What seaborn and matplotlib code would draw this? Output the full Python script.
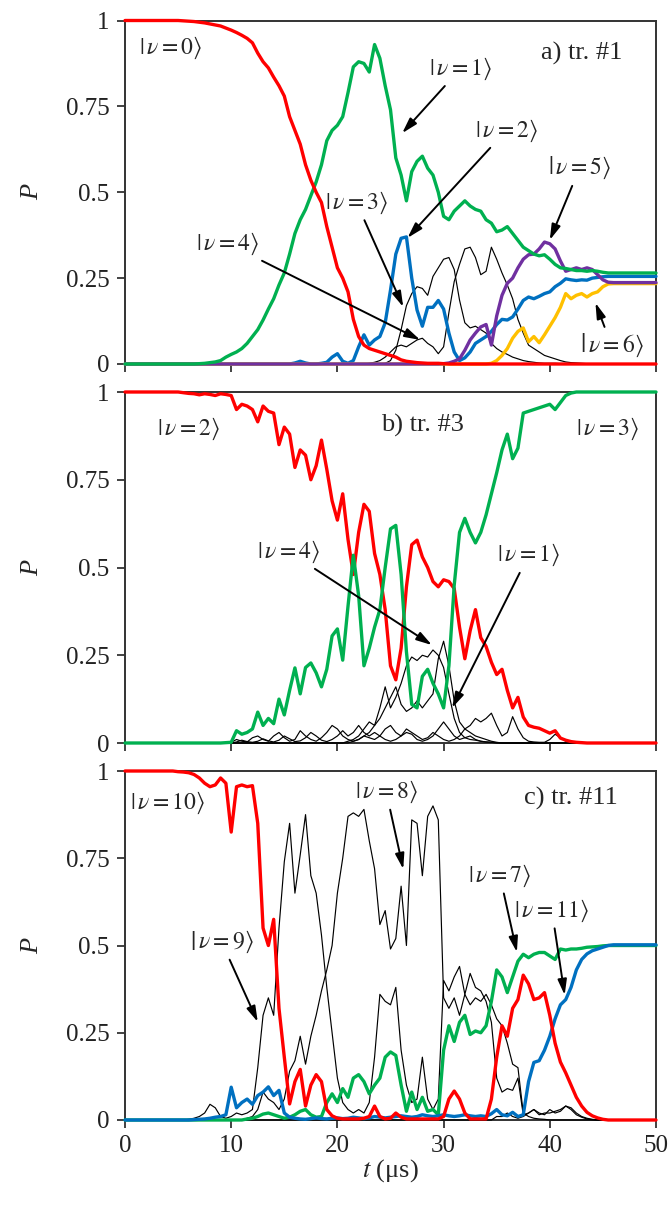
import numpy as np
import matplotlib
matplotlib.use("Agg")
import matplotlib.pyplot as plt
import seaborn as sns

# ---------------------------------------------------------------------------
# Time grid (microseconds) shared by all population curves
# ---------------------------------------------------------------------------
t = np.arange(0, 50.01, 0.5)

Z10 = [0.0] * 10

# ---------------------------- a) tr. #1 ------------------------------------
a_v0 = ([1.0] * 10 +
        [1.0, 0.999, 0.998, 0.997, 0.995, 0.993, 0.99, 0.987, 0.984, 0.978] +
        [0.972, 0.965, 0.957, 0.948, 0.935, 0.905, 0.88, 0.862, 0.835, 0.81] +
        [0.78, 0.72, 0.68, 0.64, 0.58, 0.535, 0.5, 0.47, 0.40, 0.34] +
        [0.28, 0.25, 0.21, 0.13, 0.08, 0.055, 0.045, 0.04, 0.035, 0.03] +
        [0.025, 0.02, 0.012, 0.008, 0.006, 0.004, 0.003, 0.002, 0.002, 0.002] +
        [0.001, 0, 0, 0, 0, 0, 0, 0, 0, 0] + Z10 + Z10 + Z10 + [0.0])
a_v1 = (Z10 +
        [0, 0, 0, 0, 0.001, 0.002, 0.004, 0.006, 0.01, 0.02] +
        [0.028, 0.035, 0.045, 0.06, 0.08, 0.10, 0.128, 0.16, 0.19, 0.23] +
        [0.265, 0.32, 0.38, 0.42, 0.45, 0.49, 0.53, 0.58, 0.65, 0.68] +
        [0.695, 0.72, 0.79, 0.865, 0.88, 0.875, 0.85, 0.93, 0.89, 0.81] +
        [0.74, 0.60, 0.55, 0.475, 0.56, 0.59, 0.605, 0.57, 0.55, 0.50] +
        [0.43, 0.42, 0.445, 0.46, 0.475, 0.46, 0.45, 0.445, 0.42, 0.41] +
        [0.385, 0.39, 0.40, 0.38, 0.36, 0.34, 0.33, 0.32, 0.315, 0.318] +
        [0.305, 0.29, 0.28, 0.278, 0.275, 0.272, 0.272, 0.27, 0.272, 0.27] +
        [0.267, 0.265, 0.265, 0.265, 0.265, 0.265, 0.265, 0.265, 0.265, 0.265] +
        [0.265])
a_v2 = (Z10 + Z10 + Z10 +
        [0, 0, 0.003, 0.008, 0.003, 0, 0, 0.002, 0.005, 0.02] +
        [0.03, 0.008, 0.002, 0.01, 0.05, 0.085, 0.055, 0.07, 0.08, 0.12] +
        [0.215, 0.32, 0.366, 0.37, 0.25, 0.157, 0.11, 0.165, 0.165, 0.185] +
        [0.16, 0.09, 0.035, 0.01, 0.018, 0.035, 0.06, 0.07, 0.08, 0.095] +
        [0.115, 0.13, 0.128, 0.137, 0.16, 0.185, 0.195, 0.19, 0.197, 0.205] +
        [0.21, 0.225, 0.235, 0.248, 0.245, 0.243, 0.245, 0.244, 0.25, 0.252] +
        [0.254, 0.255, 0.255, 0.255, 0.255, 0.255, 0.255, 0.255, 0.255, 0.255] +
        [0.255])
a_v5 = (Z10 * 6 +
        [0.001, 0.003, 0.008, 0.015, 0.04, 0.07, 0.09, 0.108, 0.115, 0.055] +
        [0.14, 0.2, 0.235, 0.25, 0.28, 0.305, 0.318, 0.32, 0.335, 0.355] +
        [0.35, 0.335, 0.30, 0.27, 0.275, 0.28, 0.275, 0.28, 0.275, 0.26] +
        [0.245, 0.238, 0.237, 0.237, 0.237, 0.237, 0.237, 0.237, 0.237, 0.237] +
        [0.237])
a_v6 = (Z10 * 6 +
        [0, 0, 0, 0, 0, 0, 0, 0, 0, 0.002] +
        [0.01, 0.025, 0.045, 0.075, 0.095, 0.105, 0.065, 0.08, 0.062, 0.085] +
        [0.11, 0.135, 0.165, 0.205, 0.19, 0.2, 0.205, 0.195, 0.205, 0.21] +
        [0.225, 0.233, 0.234, 0.234, 0.234, 0.234, 0.234, 0.234, 0.234, 0.234] +
        [0.234])
a_v3 = (Z10 * 4 +
        [0, 0, 0, 0, 0, 0, 0, 0, 0, 0.002] +
        [0.01, 0.04, 0.10, 0.17, 0.205, 0.225, 0.22, 0.20, 0.255, 0.28] +
        [0.305, 0.31, 0.275, 0.186, 0.12, 0.105, 0.11, 0.10, 0.09, 0.06] +
        [0.045, 0.035, 0.028, 0.02, 0.015, 0.01, 0.007, 0.005, 0.003, 0.002] +
        [0.002, 0.002, 0.001, 0, 0, 0, 0, 0, 0, 0] + Z10 + [0.0])
a_v4 = (Z10 * 4 +
        [0, 0, 0, 0, 0, 0, 0.002, 0.005, 0.01, 0.02] +
        [0.035, 0.05, 0.055, 0.05, 0.06, 0.07, 0.075, 0.06, 0.05, 0.03] +
        [0.05, 0.15, 0.24, 0.29, 0.335, 0.34, 0.31, 0.26, 0.27, 0.34] +
        [0.305, 0.265, 0.23, 0.19, 0.13, 0.09, 0.055, 0.045, 0.035, 0.025] +
        [0.02, 0.015, 0.01, 0.006, 0.004, 0.003, 0.002, 0.001, 0, 0] + Z10 + [0.0])

# ---------------------------- b) tr. #3 ------------------------------------
b_v2 = ([1.0] * 10 +
        [1.0, 0.998, 0.996, 0.995, 0.992, 0.995, 0.993, 0.99, 0.995, 0.993] +
        [0.99, 0.95, 0.965, 0.96, 0.95, 0.915, 0.96, 0.945, 0.94, 0.85] +
        [0.90, 0.88, 0.785, 0.835, 0.82, 0.75, 0.79, 0.863, 0.78, 0.69] +
        [0.635, 0.71, 0.58, 0.48, 0.60, 0.68, 0.66, 0.54, 0.48, 0.38] +
        [0.22, 0.18, 0.27, 0.445, 0.565, 0.578, 0.53, 0.50, 0.46, 0.445] +
        [0.465, 0.46, 0.44, 0.33, 0.24, 0.32, 0.38, 0.30, 0.275, 0.23] +
        [0.195, 0.21, 0.15, 0.10, 0.13, 0.074, 0.05, 0.045, 0.042, 0.035] +
        [0.028, 0.035, 0.014, 0.008, 0.004, 0.002, 0.001, 0, 0, 0] + Z10 + [0.0])
b_v3 = (Z10 +
        [0, 0, 0, 0, 0, 0, 0, 0, 0, 0.001] +
        [0.002, 0.035, 0.025, 0.03, 0.04, 0.088, 0.05, 0.07, 0.055, 0.125] +
        [0.08, 0.15, 0.214, 0.14, 0.215, 0.228, 0.20, 0.16, 0.21, 0.305] +
        [0.325, 0.236, 0.39, 0.535, 0.42, 0.22, 0.27, 0.33, 0.38, 0.50] +
        [0.61, 0.62, 0.48, 0.26, 0.11, 0.10, 0.19, 0.21, 0.17, 0.14] +
        [0.10, 0.22, 0.45, 0.60, 0.64, 0.60, 0.57, 0.60, 0.65, 0.71] +
        [0.77, 0.835, 0.88, 0.81, 0.84, 0.94, 0.945, 0.95, 0.955, 0.96] +
        [0.965, 0.95, 0.97, 0.99, 0.997, 1, 1, 1, 1, 1] + [1.0] * 10 + [1.0])
b_v4 = (Z10 * 4 +
        [0, 0, 0.005, 0.01, 0.02, 0.04, 0.06, 0.05, 0.10, 0.16] +
        [0.10, 0.13, 0.17, 0.22, 0.245, 0.235, 0.25, 0.245, 0.265, 0.25] +
        [0.215, 0.14, 0.07, 0.03, 0.015, 0.01, 0.008, 0.005, 0.003, 0.002] +
        [0.001, 0, 0, 0, 0, 0, 0, 0, 0, 0] + Z10 + Z10 + [0.0])
b_v1 = (Z10 * 4 +
        [0, 0, 0, 0.005, 0.01, 0.02, 0.03, 0.05, 0.07, 0.10] +
        [0.13, 0.16, 0.11, 0.09, 0.10, 0.12, 0.10, 0.12, 0.14, 0.24] +
        [0.29, 0.22, 0.12, 0.06, 0.04, 0.03, 0.02, 0.015, 0.01, 0.005] +
        [0.002, 0, 0, 0, 0, 0, 0, 0, 0, 0] + Z10 + Z10 + [0.0])
b_v0 = (Z10 * 2 +
        [0.002, 0.01, 0.005, 0.003, 0.015, 0.02, 0.01, 0.005, 0.02, 0.03] +
        [0.015, 0.005, 0.01, 0.035, 0.02, 0.01, 0.005, 0.015, 0.03, 0.05] +
        [0.04, 0.02, 0.01, 0.005, 0.01, 0.02, 0.015, 0.01, 0.02, 0.04] +
        [0.05, 0.03, 0.02, 0.04, 0.03, 0.02, 0.01, 0.015, 0.03, 0.02] +
        [0.01, 0.005, 0.01, 0.02, 0.04, 0.05, 0.07, 0.06, 0.07, 0.085] +
        [0.05, 0.02, 0.03, 0.075, 0.04, 0.015, 0.005, 0.003, 0.002, 0.002] +
        [0.01, 0.025, 0.015, 0.005, 0.002, 0, 0, 0, 0, 0] + Z10 + [0.0])
b_v5 = (Z10 * 2 +
        [0, 0.003, 0.008, 0.004, 0.002, 0.005, 0.012, 0.006, 0.003, 0.008] +
        [0.02, 0.012, 0.004, 0.006, 0.015, 0.03, 0.02, 0.008, 0.004, 0.01] +
        [0.02, 0.035, 0.02, 0.03, 0.05, 0.03, 0.02, 0.03, 0.02, 0.01] +
        [0.005, 0.01, 0.02, 0.03, 0.025, 0.01, 0.005, 0.01, 0.02, 0.04] +
        [0.06, 0.04, 0.02, 0.01, 0.015, 0.02, 0.01, 0.005, 0.003, 0.002] +
        Z10 + Z10 + Z10 + [0.0])

# ---------------------------- c) tr. #11 -----------------------------------
c_v10 = ([1.0] * 10 +
         [0.998, 0.997, 0.995, 0.99, 0.98, 0.965, 0.955, 0.96, 0.98, 0.965] +
         [0.825, 0.955, 0.96, 0.955, 0.958, 0.85, 0.55, 0.50, 0.575, 0.32] +
         [0.18, 0.046, 0.11, 0.145, 0.04, 0.10, 0.13, 0.11, 0.03, 0.012] +
         [0.005, 0.003, 0.003, 0.003, 0.003, 0.005, 0.01, 0.04, 0.01, 0.003] +
         [0.005, 0.02, 0.008, 0.003, 0.003, 0.003, 0.003, 0.003, 0.003, 0.003] +
         [0.01, 0.06, 0.083, 0.06, 0.02, 0.003, 0.003, 0.003, 0.003, 0.06] +
         [0.18, 0.27, 0.24, 0.32, 0.345, 0.415, 0.39, 0.345, 0.35, 0.365] +
         [0.30, 0.22, 0.166, 0.135, 0.10, 0.065, 0.04, 0.022, 0.012, 0.006] +
         [0.002, 0, 0, 0, 0, 0, 0, 0, 0, 0] + [0.0])
c_v7 = (Z10 * 2 +
        [0, 0, 0, 0.003, 0.005, 0.01, 0.017, 0.02, 0.015, 0.01] +
        [0.005, 0.008, 0.015, 0.025, 0.03, 0.015, 0.008, 0.01, 0.05, 0.075] +
        [0.05, 0.09, 0.065, 0.12, 0.13, 0.11, 0.075, 0.10, 0.12, 0.18] +
        [0.195, 0.185, 0.10, 0.025, 0.08, 0.03, 0.065, 0.025, 0.03, 0.015] +
        [0.20, 0.27, 0.225, 0.28, 0.30, 0.245, 0.255, 0.25, 0.27, 0.34] +
        [0.43, 0.41, 0.365, 0.41, 0.455, 0.475, 0.465, 0.475, 0.48, 0.48] +
        [0.47, 0.46, 0.49, 0.487, 0.49, 0.49, 0.492, 0.495, 0.496, 0.497] +
        [0.499, 0.5, 0.5, 0.5, 0.5, 0.5, 0.5, 0.5, 0.5, 0.5] + [0.5])
c_v11 = (Z10 +
         [0, 0, 0, 0.001, 0.002, 0.003, 0.005, 0.008, 0.01, 0.015] +
         [0.094, 0.035, 0.05, 0.06, 0.045, 0.07, 0.08, 0.095, 0.07, 0.085] +
         [0.02, 0.008, 0.005, 0.003, 0.002, 0.004, 0.006, 0.004, 0.003, 0.005] +
         [0.006, 0.004, 0.005, 0.008, 0.006, 0.004, 0.006, 0.01, 0.008, 0.006] +
         [0.008, 0.01, 0.012, 0.01, 0.008, 0.01, 0.015, 0.012, 0.01, 0.012] +
         [0.015, 0.012, 0.01, 0.012, 0.015, 0.012, 0.01, 0.012, 0.01, 0.018] +
         [0.03, 0.015, 0.012, 0.022, 0.01, 0.015, 0.11, 0.165, 0.17, 0.20] +
         [0.24, 0.29, 0.33, 0.345, 0.38, 0.43, 0.46, 0.476, 0.485, 0.49] +
         [0.495, 0.5, 0.502, 0.502, 0.502, 0.502, 0.502, 0.502, 0.502, 0.502] +
         [0.502])
c_v9 = (Z10 +
        [0, 0, 0.002, 0.005, 0.01, 0.02, 0.045, 0.035, 0.01, 0.005] +
        [0.01, 0.02, 0.015, 0.02, 0.03, 0.15, 0.30, 0.35, 0.30, 0.55] +
        [0.74, 0.85, 0.65, 0.76, 0.875, 0.70, 0.65, 0.53, 0.38, 0.25] +
        [0.12, 0.05, 0.03, 0.02, 0.03, 0.02, 0.05, 0.18, 0.36, 0.34] +
        [0.33, 0.38, 0.20, 0.10, 0.05, 0.06, 0.18, 0.06, 0.03, 0.06] +
        [0.40, 0.37, 0.41, 0.44, 0.36, 0.42, 0.38, 0.37, 0.34, 0.28] +
        [0.12, 0.08, 0.09, 0.085, 0.12, 0.015, 0.02, 0.03, 0.015, 0.02] +
        [0.02, 0.025, 0.03, 0.04, 0.035, 0.02, 0.01, 0.005, 0.002, 0] +
        Z10 + [0.0])
c_v8 = (Z10 * 2 +
        [0, 0, 0, 0.005, 0.01, 0.03, 0.08, 0.06, 0.05, 0.03] +
        [0.06, 0.14, 0.17, 0.24, 0.16, 0.24, 0.30, 0.37, 0.43, 0.50] +
        [0.65, 0.75, 0.87, 0.88, 0.87, 0.89, 0.80, 0.72, 0.56, 0.60] +
        [0.49, 0.52, 0.67, 0.50, 0.86, 0.85, 0.70, 0.87, 0.90, 0.86] +
        [0.35, 0.32, 0.35, 0.30, 0.36, 0.33, 0.35, 0.34, 0.36, 0.33] +
        [0.29, 0.27, 0.22, 0.16, 0.15, 0.02, 0.01, 0.005, 0.003, 0.002] +
        Z10 + Z10 + [0.0])
c_v6 = (Z10 * 7 +
        [0.01, 0.01, 0.02, 0.01, 0.005, 0.01, 0.02, 0.03, 0.02, 0.015] +
        [0.03, 0.02, 0.025, 0.04, 0.03, 0.015, 0.008, 0.003, 0.001, 0] +
        Z10 + [0.0])

RED, GREEN, BLUE = "#FF0000", "#00B050", "#0070C0"
PURPLE, GOLD, BLACK = "#7030A0", "#FFC000", "#000000"


def ket(n):
    return r"$\left|\,\nu = %s\right\rangle$" % n


panels = [
    dict(tag="a) tr. #1",
         thin=[a_v3, a_v4],
         thick=[(a_v2, BLUE), (a_v6, GOLD), (a_v5, PURPLE), (a_v1, GREEN), (a_v0, RED)],
         labels=[(ket(0), (4.3, 0.92), None),
                 (ket(1), (31.6, 0.86), (26.1, 0.672)),
                 (ket(2), (35.9, 0.68), (26.6, 0.367)),
                 (ket(3), (21.8, 0.47), (26.2, 0.166)),
                 (ket(4), (9.7, 0.35), (27.8, 0.07)),
                 (ket(5), (42.8, 0.57), (40.0, 0.361)),
                 (ket(6), (45.8, 0.055), (44.3, 0.178))],
         tagpos=(43.0, 0.905)),
    dict(tag="b) tr. #3",
         thin=[b_v0, b_v5, b_v4, b_v1],
         thick=[(b_v2, RED), (b_v3, GREEN)],
         labels=[(ket(2), (6.0, 0.895), None),
                 (ket(3), (45.4, 0.895), None),
                 (ket(4), (15.4, 0.545), (28.9, 0.279)),
                 (ket(1), (38.0, 0.535), (30.8, 0.10))],
         tagpos=(28.0, 0.905)),
    dict(tag="c) tr. #11",
         thin=[c_v6, c_v9, c_v8],
         thick=[(c_v7, GREEN), (c_v11, BLUE), (c_v10, RED)],
         labels=[(ket(10), (4.0, 0.91), None),
                 (ket(8), (24.6, 0.94), (26.2, 0.719)),
                 (ket(9), (9.1, 0.51), (12.5, 0.281)),
                 (ket(7), (35.3, 0.70), (36.9, 0.481)),
                 (ket(11), (40.2, 0.60), (41.4, 0.358))],
         tagpos=(42.0, 0.92)),
]

sns.set_style("ticks")
plt.rcParams["font.family"] = ["Liberation Serif", "DejaVu Serif"]
plt.rcParams["mathtext.fontset"] = "stix"

fig = plt.figure(figsize=(6.7, 12.06), dpi=100)
W, H = 670.0, 1206.0
left, right = 125.0, 656.0
boxes = [(20.5, 364.0), (392.0, 743.0), (771.0, 1120.0)]

for k, (spec, (top, bot)) in enumerate(zip(panels, boxes)):
    ax = fig.add_axes([left / W, 1 - bot / H, (right - left) / W, (bot - top) / H])
    for y in spec["thin"]:
        assert len(y) == len(t)
        sns.lineplot(x=t, y=np.asarray(y), ax=ax, color=BLACK, linewidth=0.85,
                     estimator=None, legend=False, clip_on=False, zorder=2)
    for y, c in spec["thick"]:
        assert len(y) == len(t)
        sns.lineplot(x=t, y=np.asarray(y), ax=ax, color=c, linewidth=2.4,
                     estimator=None, legend=False, clip_on=False, zorder=3)

    ax.set_xlim(0, 50)
    ax.set_ylim(0, 1)
    ax.set_xticks(np.arange(0, 51, 10))
    ax.set_yticks([0, 0.25, 0.5, 0.75, 1])
    ax.set_yticklabels(["0", "0.25", "0.5", "0.75", "1"])
    ax.tick_params(direction="out", length=6, width=1.2, labelsize=18,
                   colors="#222222", pad=5)
    for s in ax.spines.values():
        s.set_linewidth(1.4)
        s.set_color("#333333")
        s.set_zorder(1)
    ax.set_ylabel("P", fontsize=19, fontstyle="italic", rotation=90)
    ax.yaxis.set_label_coords(-0.155, 0.5)
    if k < 2:
        ax.tick_params(labelbottom=False)
        ax.set_xlabel("")
    else:
        ax.set_xlabel(r"$t$ (μs)", fontsize=19, labelpad=0)

    ax.text(*spec["tagpos"], spec["tag"], fontsize=19, ha="center", va="center",
            zorder=5)
    for txt, pos, tip in spec["labels"]:
        if tip is None:
            ax.text(*pos, txt, fontsize=17, ha="center", va="center", zorder=5)
        else:
            ax.annotate(txt, xy=tip, xytext=pos, fontsize=17, ha="center",
                        va="center", zorder=5,
                        arrowprops=dict(arrowstyle="-|>,head_length=0.55,head_width=0.16",
                                        color="black", lw=1.4,
                                        shrinkA=1, shrinkB=0))

fig.savefig("out.png", dpi=100)
